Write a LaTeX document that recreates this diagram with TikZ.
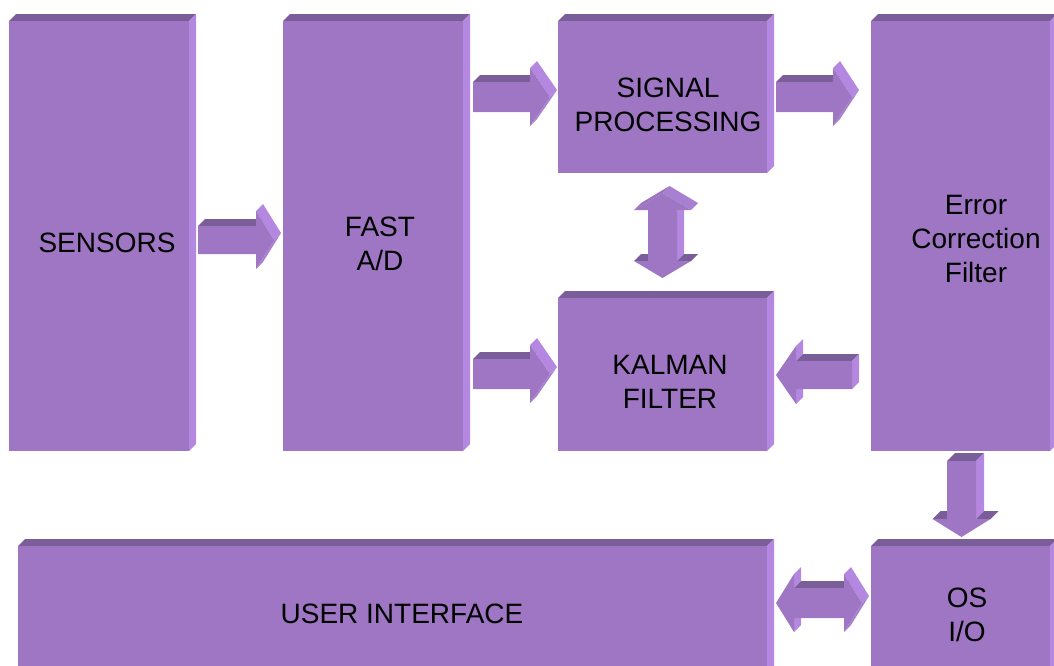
\documentclass[tikz,border=0pt]{standalone}
\usepackage{fontspec}
\setmainfont{Liberation Sans}
\definecolor{frontc}{HTML}{9E76C4}
\definecolor{topc}{HTML}{7A5E99}
\definecolor{sidec}{HTML}{B488E0}
\definecolor{slantc}{HTML}{A880D2}
\definecolor{ulc}{HTML}{9A73BF}
\tikzset{
  blockface/.style={fill=frontc, draw=none, inner sep=0pt, outer sep=0pt, anchor=north west},
  frontface/.style={fill=frontc},
  topface/.style={fill=topc},
  sideface/.style={fill=sidec},
  slantface/.style={fill=slantc},
  ulface/.style={fill=ulc},
  lbl/.style={font=\fontsize{28}{34}\selectfont, align=center, text=black, inner sep=0pt},
}
% 3D block: name, x1, y1, x2, y2 (pixel coords, y downwards)
\newcommand\blk[5]{%
  \fill[topface] (#2,#3) -- (#4,#3) -- ++(7,-7) -- (#2+7,#3-7) -- cycle;
  \fill[sideface] (#4,#3) -- (#4,#5) -- ++(7,-7) -- (#4+7,#3-7) -- cycle;
  \node[blockface, minimum width={(#4-#2)*1pt}, minimum height={(#5-#3)*1pt}] (#1) at (#2,#3) {};
}
% right arrow: body left x0, shoulder x1, tip x2, centre yc, body half h, head half H, depth d
\newcommand\rarr[7]{%
  \fill[topface] (#1,#4-#5) -- (#2,#4-#5) -- ++(#7,-#7) -- (#1+#7,#4-#5-#7) -- cycle;
  \fill[sideface] (#2,#4-#6) -- (#3,#4) -- ++(#7,-#7) -- (#2+#7,#4-#6-#7) -- cycle;
  \fill[slantface] (#3,#4) -- (#2,#4+#6) -- ++(#7,-#7) -- (#3+#7,#4-#7) -- cycle;
  \fill[frontface] (#1,#4-#5) -- (#2,#4-#5) -- (#2,#4-#6) -- (#3,#4) -- (#2,#4+#6) -- (#2,#4+#5) -- (#1,#4+#5) -- cycle;
}
% left arrow: body right x0, shoulder x1, tip x2, centre yc, h, H, d
\newcommand\larr[7]{%
  \fill[sideface] (#2,#4-#6) -- (#2,#4-#5) -- ++(#7,-#7) -- (#2+#7,#4-#6-#7) -- cycle;
  \fill[sideface] (#2,#4+#5) -- (#2,#4+#6) -- ++(#7,-#7) -- (#2+#7,#4+#5-#7) -- cycle;
  \fill[topface] (#2,#4-#5) -- (#1,#4-#5) -- ++(#7,-#7) -- (#2+#7,#4-#5-#7) -- cycle;
  \fill[sideface] (#1,#4-#5) -- (#1,#4+#5) -- ++(#7,-#7) -- (#1+#7,#4-#5-#7) -- cycle;
  \fill[frontface] (#1,#4-#5) -- (#2,#4-#5) -- (#2,#4-#6) -- (#3,#4) -- (#2,#4+#6) -- (#2,#4+#5) -- (#1,#4+#5) -- cycle;
}
% double horizontal arrow: left tip, left shoulder, right shoulder, right tip, yc, h, H, d
\newcommand\hdarr[8]{%
  \fill[sideface] (#2,#5-#7) -- (#2,#5-#6) -- ++(#8,-#8) -- (#2+#8,#5-#7-#8) -- cycle;
  \fill[sideface] (#2,#5+#6) -- (#2,#5+#7) -- ++(#8,-#8) -- (#2+#8,#5+#6-#8) -- cycle;
  \fill[topface] (#2,#5-#6) -- (#3,#5-#6) -- ++(#8,-#8) -- (#2+#8,#5-#6-#8) -- cycle;
  \fill[sideface] (#3,#5-#7) -- (#4,#5) -- ++(#8,-#8) -- (#3+#8,#5-#7-#8) -- cycle;
  \fill[slantface] (#4,#5) -- (#3,#5+#7) -- ++(#8,-#8) -- (#4+#8,#5-#8) -- cycle;
  \fill[frontface] (#1,#5) -- (#2,#5-#7) -- (#2,#5-#6) -- (#3,#5-#6) -- (#3,#5-#7) -- (#4,#5)
     -- (#3,#5+#7) -- (#3,#5+#6) -- (#2,#5+#6) -- (#2,#5+#7) -- cycle;
}
% down arrow: xc, body top y0, shoulder y1, tip y2, body half w, head half W, d
\newcommand\darr[7]{%
  \fill[topface] (#1-#5,#2) -- (#1+#5,#2) -- ++(#7,-#7) -- (#1-#5+#7,#2-#7) -- cycle;
  \fill[sideface] (#1+#5,#2) -- (#1+#5,#3) -- ++(#7,-#7) -- (#1+#5+#7,#2-#7) -- cycle;
  \fill[topface] (#1-#6,#3) -- (#1-#5,#3) -- ++(#7,-#7) -- (#1-#6+#7,#3-#7) -- cycle;
  \fill[topface] (#1+#5,#3) -- (#1+#6,#3) -- ++(#7,-#7) -- (#1+#5+#7,#3-#7) -- cycle;
  \fill[frontface] (#1-#5,#2) -- (#1+#5,#2) -- (#1+#5,#3) -- (#1+#6,#3) -- (#1,#4) -- (#1-#6,#3) -- (#1-#5,#3) -- cycle;
}
% double vertical arrow: xc, top tip ya, head base yb, lower shoulder y1, bottom tip y2, w, W, d
\newcommand\vdarr[8]{%
  \fill[sideface] (#1+#6,#3) -- (#1+#6,#4) -- ++(#8,-#8) -- (#1+#6+#8,#3-#8) -- cycle;
  \fill[topface] (#1-#7,#4) -- (#1-#6,#4) -- ++(#8,-#8) -- (#1-#7+#8,#4-#8) -- cycle;
  \fill[topface] (#1+#6,#4) -- (#1+#7,#4) -- ++(#8,-#8) -- (#1+#6+#8,#4-#8) -- cycle;
  \fill[ulface] (#1-#7,#3) -- (#1,#2) -- ++(#8,-#8) -- (#1-#7+#8,#3-#8) -- cycle;
  \fill[slantface] (#1,#2) -- (#1+#7,#3) -- ++(#8,-#8) -- (#1+#8,#2-#8) -- cycle;
  \fill[frontface] (#1,#2) -- (#1+#7,#3) -- (#1+#6,#3) -- (#1+#6,#4) -- (#1+#7,#4) -- (#1,#5)
     -- (#1-#7,#4) -- (#1-#6,#4) -- (#1-#6,#3) -- (#1-#7,#3) -- cycle;
}
\begin{document}
\begin{tikzpicture}[x=1pt,y=-1pt]
\useasboundingbox (0,0) rectangle (1054,665);
% blocks
\blk{sensors}{9}{21}{189}{451}
\blk{fastad}{283}{21}{463}{451}
\blk{signal}{558}{21}{767}{173}
\blk{kalman}{558}{298}{767}{451}
\blk{errcorr}{871}{21}{1050}{451}
\blk{userif}{18}{546}{767}{680}
\blk{osio}{871}{546}{1050}{680}
% arrows
\rarr{198}{256}{274}{240}{14}{29}{7}   % sensors -> fast A/D
\rarr{473}{530}{550}{97}{15}{29}{7}    % fast A/D -> signal
\rarr{473}{530}{550}{374}{15}{29}{7}   % fast A/D -> kalman
\rarr{776}{833}{852}{97}{15}{29}{7}    % signal -> error correction
\larr{852}{796}{776}{375}{14}{29}{7}   % error correction -> kalman
\vdarr{662.5}{193}{210}{261}{278}{14.5}{28.5}{7} % signal <-> kalman
\darr{961.5}{461}{519}{537}{14.5}{29}{8} % error correction -> OS
\hdarr{776}{794}{844}{862}{603}{15}{29}{7} % user interface <-> OS
% labels
\node[lbl] (tSensors) at (107,243) {SENSORS};
\node[lbl] (tFast) at (380,244) {FAST\\A/D};
\node[lbl] (tSignal) at (668,105) {SIGNAL\\PROCESSING};
\node[lbl] (tKalman) at (670,382) {KALMAN\\FILTER};
\node[lbl] (tError) at (976,239) {Error\\Correction\\Filter};
\node[lbl] (tUser) at (402,614) {USER INTERFACE};
\node[lbl] (tOS) at (967,615) {OS\\I/O};
\end{tikzpicture}
\end{document}
